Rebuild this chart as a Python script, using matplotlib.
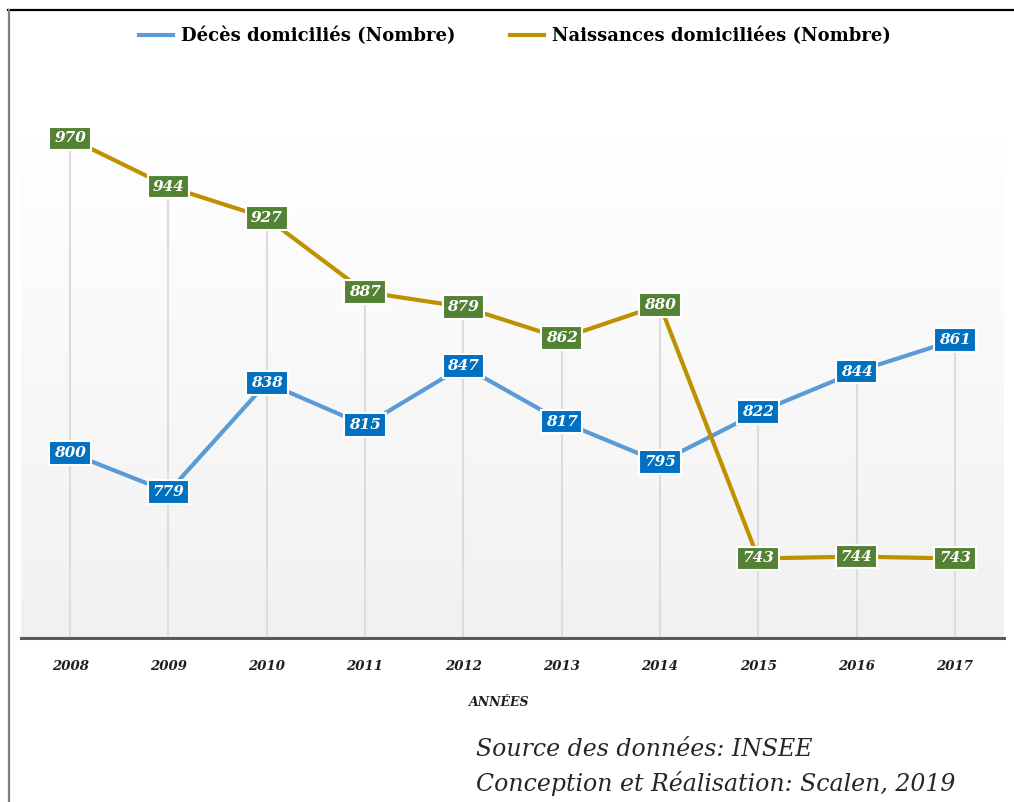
import numpy as np
import matplotlib
matplotlib.use("Agg")
import matplotlib.pyplot as plt
from matplotlib.lines import Line2D

years = ["2008", "2009", "2010", "2011", "2012", "2013", "2014", "2015", "2016", "2017"]
deces = [800, 779, 838, 815, 847, 817, 795, 822, 844, 861]
naissances = [970, 944, 927, 887, 879, 862, 880, 743, 744, 743]

label_deces = "Décès domiciliés (Nombre)"
label_naiss = "Naissances domiciliées (Nombre)"

c_deces = "#5b9bd5"
c_deces_box = "#0070c0"
c_naiss = "#bf9000"
c_naiss_box = "#548235"

W, H = 1014, 802
fig = plt.figure(figsize=(W / 100, H / 100), dpi=100)
fig.patch.set_facecolor("white")

# frame lines around the figure (top and left)
fig.add_artist(Line2D([8 / W, 1], [1 - 10 / H, 1 - 10 / H], color="black", lw=1.6, transform=fig.transFigure))
fig.add_artist(Line2D([8.5 / W, 8.5 / W], [0, 1 - 10 / H], color="#7f7f7f", lw=1.6, transform=fig.transFigure))

left, right, top, bottom = 21, 1004, 83, 638
ax = fig.add_axes([left / W, 1 - bottom / H, (right - left) / W, (bottom - top) / H])
x = np.arange(len(years))
ax.set_xlim(-0.5, len(years) - 0.5)
ax.set_ylim(700, 1000)

# vertical gradient background: white at top, light grey at bottom
grad = np.linspace(0, 1, 256).reshape(-1, 1)
grad = np.clip((grad - 0.1) / 0.9, 0, 1)
cols = np.empty((256, 1, 3))
top_c = np.array([1.0, 1.0, 1.0])
bot_c = np.array([0xf1, 0xf1, 0xf1]) / 255
for i in range(3):
    cols[:, 0, i] = top_c[i] + (bot_c[i] - top_c[i]) * grad[:, 0]
ax.imshow(cols, extent=[-0.5, len(years) - 0.5, 700, 1000], origin="upper",
          aspect="auto", zorder=0)

# drop lines from the higher point to the axis
for xi, a, b in zip(x, deces, naissances):
    ax.plot([xi, xi], [700, max(a, b)], color="#dcdcdc", lw=1.5, zorder=1)

ax.plot(x, deces, color=c_deces, lw=3, zorder=3, solid_capstyle="round")
ax.plot(x, naissances, color=c_naiss, lw=3, zorder=3, solid_capstyle="round")

lab_font = dict(family="DejaVu Serif", weight="bold", style="italic", size=11)
for xi, v in zip(x, deces):
    ax.text(xi, v, str(v), ha="center", va="center", color="white", zorder=5,
            bbox=dict(boxstyle="square,pad=0.32", fc=c_deces_box, ec="white", lw=1.5),
            **lab_font)
for xi, v in zip(x, naissances):
    ax.text(xi, v, str(v), ha="center", va="center", color="white", zorder=5,
            bbox=dict(boxstyle="square,pad=0.32", fc=c_naiss_box, ec="white", lw=1.5),
            **lab_font)

for s in ["top", "right", "left"]:
    ax.spines[s].set_visible(False)
ax.spines["bottom"].set_color("#595959")
ax.spines["bottom"].set_linewidth(2.2)
ax.set_yticks([])
ax.set_xticks(x)
ax.set_xticklabels(years, fontdict=dict(family="DejaVu Serif", weight="bold", style="italic", size=9.5),
                   color="#1f1f1f")
ax.tick_params(axis="x", length=0, pad=16)

# axis title
fig.text(499 / W, 1 - 702 / H, "ANNÉES", ha="center", va="center", family="DejaVu Serif",
         weight="bold", style="italic", size=9, color="#1f1f1f")

handles = [Line2D([], [], color=c_deces, lw=3), Line2D([], [], color=c_naiss, lw=3)]
fig.legend(handles, [label_deces, label_naiss], loc="center", bbox_to_anchor=(0.508, 1 - 36 / H),
           ncol=2, frameon=False, handlelength=1.9, handletextpad=0.45, columnspacing=3.0,
           prop=dict(family="DejaVu Serif", weight="bold", size=13))

src_font = dict(family="DejaVu Serif", style="italic", size=17, color="#262626")
fig.text(476 / W, 1 - 750 / H, "Source des données: INSEE", ha="left", va="center", **src_font)
fig.text(476 / W, 1 - 783 / H, "Conception et Réalisation: Scalen, 2019", ha="left", va="center", **src_font)

fig.savefig("out.png", dpi=100)
